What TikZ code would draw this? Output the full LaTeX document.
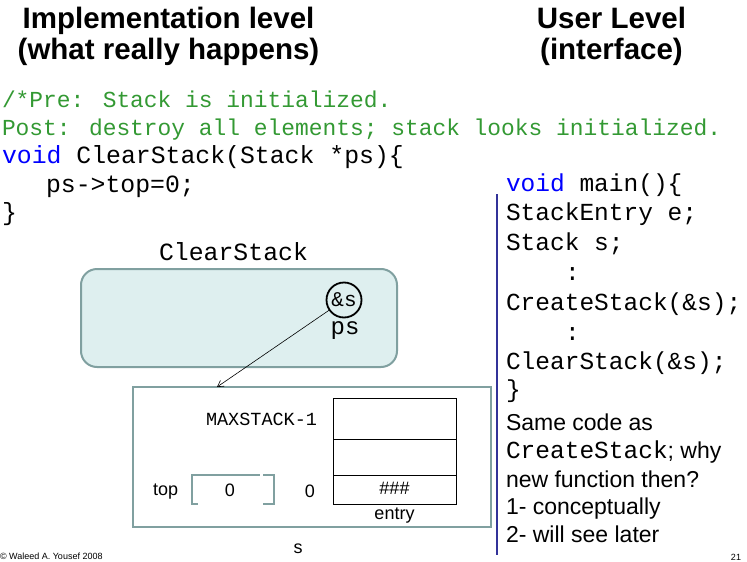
\documentclass[tikz,border=0pt]{standalone}
\usepackage{fontspec}
\setmainfont{Liberation Sans}
\newfontfamily\mono{Liberation Mono}
\usetikzlibrary{arrows.meta}
\definecolor{cgreen}{RGB}{51,153,51}
\definecolor{cblue}{RGB}{0,0,255}
\definecolor{tealline}{RGB}{128,160,160}
\definecolor{tealfill}{RGB}{222,239,239}
\definecolor{vline}{RGB}{51,51,153}
\begin{document}
\begin{tikzpicture}[x=1pt,y=-1pt,
  every node/.style={inner sep=0pt, outer sep=0pt},
  head/.style={font=\fontsize{29.5}{29.5}\selectfont\bfseries, anchor=base},
  cmt/.style={font=\mono\fontsize{22.9}{22.9}\selectfont, text=cgreen, anchor=base west},
  lcode/.style={font=\mono\fontsize{24.8}{24.8}\selectfont, anchor=base west},
  rcode/.style={font=\mono\fontsize{24.5}{24.5}\selectfont, anchor=base west},
  rtext/.style={font=\fontsize{23}{23}\selectfont, anchor=base west},
  small/.style={font=\fontsize{18}{18}\selectfont, anchor=base},
  tiny/.style={font=\fontsize{9}{9}\selectfont},
  frame/.style={draw=tealline, line width=2pt},
  cell/.style={draw=black, line width=0.8pt}]
\useasboundingbox (0,0) rectangle (747,562);

% headings
\node[head] (h1) at (168.5,28) {Implementation level};
\node[head] (h2) at (168.5,59) {(what really happens)};
\node[head] (h3) at (611.5,28) {User Level};
\node[head] (h4) at (611.5,59) {(interface)};

% left code
\node[cmt] (c1) at (2,107) {/*Pre: Stack is initialized.};
\node[cmt] (c2) at (2,135) {Post: destroy all elements; stack looks initialized.};
\node[lcode] (c3) at (2,163) {\textcolor{cblue}{void} ClearStack(Stack *ps)\{};
\node[lcode] (c4) at (46,192) {ps->top=0;};
\node[lcode] (c5) at (2,220) {\}};

% ClearStack frame
\node[lcode, anchor=base] (cslabel) at (233.5,260) {ClearStack};
\node[frame, fill=tealfill, rounded corners=16pt, minimum width=316pt, minimum height=98pt] (csbox) at (239,318) {};
\node[draw=black, line width=1.8pt, circle, minimum size=35pt, font=\mono\fontsize{21}{21}\selectfont] (ps) at (344,300) {\&s};
\node[font=\mono\fontsize{24}{24}\selectfont, anchor=base] (pslabel) at (345,334) {ps};

% s struct
\node[frame, minimum width=358pt, minimum height=140pt] (sbox) at (312,457) {};
\coordinate (target) at (217,387);
\draw[line width=0.6pt, -{Straight Barb[length=6pt,width=7pt]}] (ps) -- (target);

\node[draw=none, minimum width=123pt, minimum height=106pt] (entry) at (394.5,451) {};
\draw[cell] (entry.north west) rectangle (entry.south east);
\coordinate (l1w) at (333,439); \coordinate (l1e) at (456,439);
\coordinate (l2w) at (333,475); \coordinate (l2e) at (456,475);
\draw[cell] (l1w) -- (l1e);
\draw[cell] (l2w) -- (l2e);

\node[font=\mono\fontsize{18.5}{18.5}\selectfont, anchor=base west] (maxs) at (206,425) {MAXSTACK-1};
\node[small, anchor=base west] (toplbl) at (153,495) {top};
\coordinate (tb1) at (198,504); \coordinate (tb2) at (192,504);
\coordinate (tb3) at (192,475); \coordinate (tb4) at (260,475);
\coordinate (tb5) at (263,475); \coordinate (tb6) at (274,475);
\coordinate (tb7) at (274,504); \coordinate (tb8) at (263,504);
\draw[tealline, line width=2pt] (tb1) -- (tb2) -- (tb3) -- (tb4);
\draw[tealline, line width=2pt] (tb5) -- (tb6) -- (tb7) -- (tb8);
\node[small] (topval) at (230,496) {0};
\node[small] (zero) at (310,497) {0};
\node[small] (hash) at (394.5,494) {\#\#\#};
\node[small] (entrylbl) at (394.5,519) {entry};
\node[small] (slbl) at (298,553) {s};

% divider
\coordinate (vtop) at (496.5,194);
\coordinate (vbot) at (496.5,555);
\draw[vline, line width=2pt] (vtop) -- (vbot);

% right code
\node[rcode] (r1) at (506,191) {\textcolor{cblue}{void} main()\{};
\node[rcode] (r2) at (506,220) {StackEntry e;};
\node[rcode] (r3) at (506,250) {Stack s;};
\node[rcode] (r4) at (565,280) {:};
\node[rcode] (r5) at (506,310) {CreateStack(\&s);};
\node[rcode] (r6) at (565,340) {:};
\node[rcode] (r7) at (506,369) {ClearStack(\&s);};
\node[rcode] (r8) at (506,397) {\}};

\node[rtext] (t1) at (506,430) {Same code as};
\node[rtext] (t2) at (506,458) {{\mono\fontsize{24.5}{24.5}\selectfont CreateStack}; why};
\node[rtext] (t3) at (506,487) {new function then?};
\node[rtext] (t4) at (506,514) {1- conceptually};
\node[rtext] (t5) at (506,542) {2- will see later};

% footer
\node[tiny, anchor=base west] (foot) at (0,559.5) {© Waleed A. Yousef 2008};
\node[tiny, anchor=base east] (pg) at (741,560) {21};
\end{tikzpicture}
\end{document}
